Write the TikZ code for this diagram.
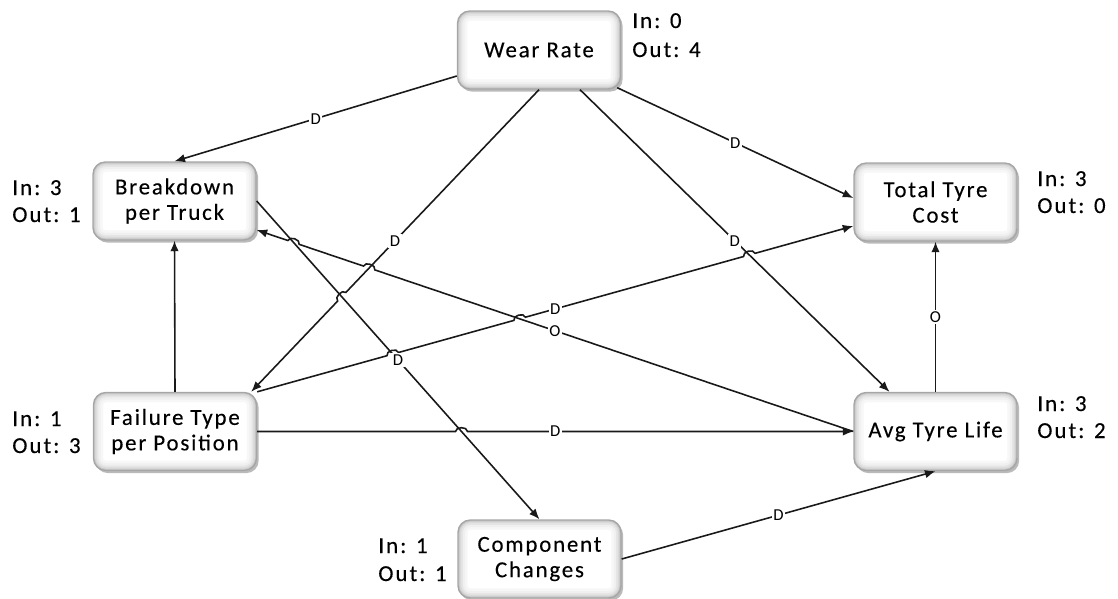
\documentclass[tikz,border=0pt]{standalone}
\usepackage{fontspec}
\setmainfont{Carlito}
\usetikzlibrary{arrows.meta,calc,intersections,shadows}
\begin{document}
\begin{tikzpicture}[x=0.02cm, y=0.02cm,
  box/.style={draw=gray!70, line width=0.8pt, fill=white, rounded corners=7pt,
    minimum width=3.26cm, minimum height=1.56cm, align=center, inner sep=0pt,
    font=\fontsize{13}{14.5}\selectfont\addfontfeature{LetterSpace=8,FakeBold=0.3},
    drop shadow={shadow xshift=1.2pt, shadow yshift=-1.5pt, fill=black!45, opacity=0.6},
    path picture={
      \foreach \w/\c in {11/3, 8/6, 5.5/10, 3.5/15, 1.8/22}{
        \draw[black!\c, line width=\w pt, rounded corners=7pt]
          (path picture bounding box.south west) rectangle (path picture bounding box.north east);
      }
    }},
  stat/.style={anchor=base west, inner sep=0pt,
    font=\fontsize{13}{15}\selectfont\addfontfeature{LetterSpace=9,FakeBold=0.3}},
  conn/.style={draw=black!90, line width=0.9pt, -{Latex[length=6pt,width=4.8pt]}},
  lbl/.style={fill=white, inner sep=0.9pt, font=\fontsize{9.5}{10}\selectfont},
  hopL/.style={bend left=90, looseness=1.1},
  hopR/.style={bend right=90, looseness=1.1}]
\useasboundingbox (0,0) rectangle (1118,-598);

% boxes
\node[box] (wr)  at (539,-50)      {Wear Rate};
\node[box] (bd)  at (174.5,-201)   {Breakdown\\per Truck};
\node[box] (tc)  at (935.5,-202)   {Total Tyre\\Cost};
\node[box] (ft)  at (175,-431.5)   {Failure Type\\per Position};
\node[box] (avg) at (935.5,-431.5) {Avg Tyre Life};
\node[box] (cc)  at (539.5,-559)   {Component\\Changes};

% in/out counts
\node[stat] (wrIn)   at (632,-28)  {In: 0};
\node[stat] (wrOut)  at (632,-57)  {Out: 4};
\node[stat] (bdIn)   at (12,-195)  {In: 3};
\node[stat] (bdOut)  at (12,-222)  {Out: 1};
\node[stat] (tcIn)   at (1037,-186) {In: 3};
\node[stat] (tcOut)  at (1037,-213) {Out: 0};
\node[stat] (ftIn)   at (12,-426)  {In: 1};
\node[stat] (ftOut)  at (12,-453)  {Out: 3};
\node[stat] (avgIn)  at (1037,-411) {In: 3};
\node[stat] (avgOut) at (1037,-438) {Out: 2};
\node[stat] (ccIn)   at (378,-553) {In: 1};
\node[stat] (ccOut)  at (378,-581) {Out: 1};

% ports on the box borders
\coordinate (pWB) at ($(wr.west)+(0,-26)$);
\coordinate (pWA) at ($(wr.south)+(41,0)$);
\coordinate (pWT) at ($(wr.south east)+(-4,2)$);
\coordinate (pT1) at ($(tc.west)+(0,4)$);
\coordinate (pT2) at ($(tc.west)+(0,-24)$);
\coordinate (pF)  at ($(ft.north east)+(-6,0)$);
\coordinate (pB)  at ($(bd.east)+(0,-29)$);
\coordinate (pA)  at ($(avg.north)+(-46,0)$);

% straight routes, used to locate the line jumps
\path[name path=eBC] (bd.east) -- (cc.north);
\path[name path=eWF] (wr.south) -- (pF);
\path[name path=eAB] (avg.west) -- (pB);
\path[name path=eFT] (ft.north east) -- (pT2);
\path[name path=eFA] (ft.east) -- (avg.west);
\path[name path=eWA] (pWA) -- (pA);
\path[name intersections={of=eAB and eWF, by=h1}];
\path[name intersections={of=eAB and eBC, by=h2}];
\path[name intersections={of=eWF and eBC, by=h3}];
\path[name intersections={of=eFT and eBC, by=h4}];
\path[name intersections={of=eFT and eAB, by=h5}];
\path[name intersections={of=eFT and eWA, by=h6}];
\path[name intersections={of=eFA and eBC, by=h7}];

% connectors without jumps
\draw[conn] (pWB) -- (bd.north);
\draw[conn] (pWA) -- (pA);
\draw[conn] (pWT) -- (pT1);
\draw[conn] (bd.east) -- (cc.north);
\draw[conn] (ft.north) -- (bd.south);
\draw[conn] (avg.north) -- (tc.south);
\draw[conn] (cc.east) -- (avg.south);

% connectors with line jumps
\draw[conn] (wr.south) -- ($(h3)!3.4pt!(wr.south)$) to[hopR] ($(h3)!3.4pt!(pF)$) -- (pF);
\draw[conn] (avg.west)
  -- ($(h1)!3.4pt!(avg.west)$) to[hopR] ($(h1)!3.4pt!(pB)$)
  -- ($(h2)!3.4pt!(avg.west)$) to[hopR] ($(h2)!3.4pt!(pB)$) -- (pB);
\draw[conn] (ft.north east)
  -- ($(h4)!3.4pt!(ft.north east)$) to[hopL] ($(h4)!3.4pt!(pT2)$)
  -- ($(h5)!3.4pt!(ft.north east)$) to[hopL] ($(h5)!3.4pt!(pT2)$)
  -- ($(h6)!3.4pt!(ft.north east)$) to[hopL] ($(h6)!3.4pt!(pT2)$) -- (pT2);
\draw[conn] (ft.east) -- ($(h7)!3.4pt!(ft.east)$) to[hopL] ($(h7)!3.4pt!(avg.west)$) -- (avg.west);

% connector labels
\path (pWB) -- (bd.north) node[lbl, pos=.5] (l1) {D};
\path (wr.south) -- (pF) node[lbl, pos=.5] (l2) {D};
\path (pWA) -- (pA) node[lbl, pos=.5] (l3) {D};
\path (pWT) -- (pT1) node[lbl, pos=.5] (l4) {D};
\path (bd.east) -- (cc.north) node[lbl, pos=.5] (l5) {D};
\path (avg.west) -- (pB) node[lbl, pos=.5] (l6) {O};
\path (ft.north east) -- (pT2) node[lbl, pos=.5] (l7) {D};
\path (ft.east) -- (avg.west) node[lbl, pos=.5] (l8) {D};
\path (avg.north) -- (tc.south) node[lbl, pos=.5] (l9) {O};
\path (cc.east) -- (avg.south) node[lbl, pos=.5] (l10) {D};
\end{tikzpicture}
\end{document}
